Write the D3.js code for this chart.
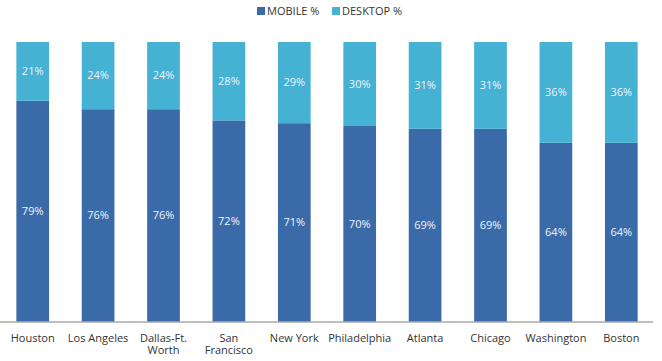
<!DOCTYPE html>
<html><head><meta charset="utf-8">
<script src="https://cdn.jsdelivr.net/npm/d3@7"></script>
<style>body{margin:0;background:#fff;} text{font-family:"Open Sans",sans-serif;}</style>
</head><body>
<svg id="c" width="662" height="361"></svg>
<script>
const categories = [["Houston"],["Los Angeles"],["Dallas-Ft.","Worth"],["San","Francisco"],["New York"],["Philadelphia"],["Atlanta"],["Chicago"],["Washington"],["Boston"]];
const mobile = [79,76,76,72,71,70,69,69,64,64];
const desktop = [21,24,24,28,29,30,31,31,36,36];
const seriesNames = ["MOBILE %","DESKTOP %"];
const colors = ["#3a6ba8","#45b1d3"];

const svg = d3.select("#c");
const names = categories.map(c=>c.join(" "));
const x = d3.scaleBand().domain(names).range([0,654]).paddingInner(0.5).paddingOuter(0.25);
const y = d3.scaleLinear().domain([0,100]).range([322,42]);

const rows = names.map((n,i)=>({name:n, mobile:mobile[i], desktop:desktop[i]}));
const stack = d3.stack().keys(["mobile","desktop"])(rows);

stack.forEach((s,si)=>{
  const g = svg.append("g");
  g.selectAll("rect").data(s).join("rect")
    .attr("x",d=>x(d.data.name)).attr("width",x.bandwidth())
    .attr("y",d=>y(d[1])).attr("height",d=>y(d[0])-y(d[1]))
    .attr("fill",colors[si]);
  g.selectAll("text").data(s).join("text")
    .attr("x",d=>x(d.data.name)+x.bandwidth()/2)
    .attr("y",d=>(y(d[0])+y(d[1]))/2)
    .attr("dy","0.35em").attr("text-anchor","middle")
    .attr("font-size",11).attr("fill","#eef4fa")
    .text(d=>(d[1]-d[0])+"%");
});

// axis
const ax = svg.append("g").attr("transform","translate(0,322)").call(d3.axisBottom(x).tickSize(0).tickFormat(""));
ax.select(".domain").attr("stroke","#aaa").attr("stroke-width",1.5).attr("d","M0,0H653");
categories.forEach((c,i)=>{
  c.forEach((l,j)=>svg.append("text").attr("x",x(names[i])+x.bandwidth()/2).attr("y",342+j*12)
    .attr("text-anchor","middle").attr("font-size",11).attr("fill","#333").text(l));
});

// legend
const lx = [257,332];
seriesNames.forEach((n,i)=>{
  svg.append("rect").attr("x",lx[i]).attr("y",7).attr("width",8).attr("height",8).attr("fill",colors[i]);
  svg.append("text").attr("x",lx[i]+10).attr("y",15).attr("font-size",11).attr("fill","#333").text(n);
});
</script>
</body></html>
